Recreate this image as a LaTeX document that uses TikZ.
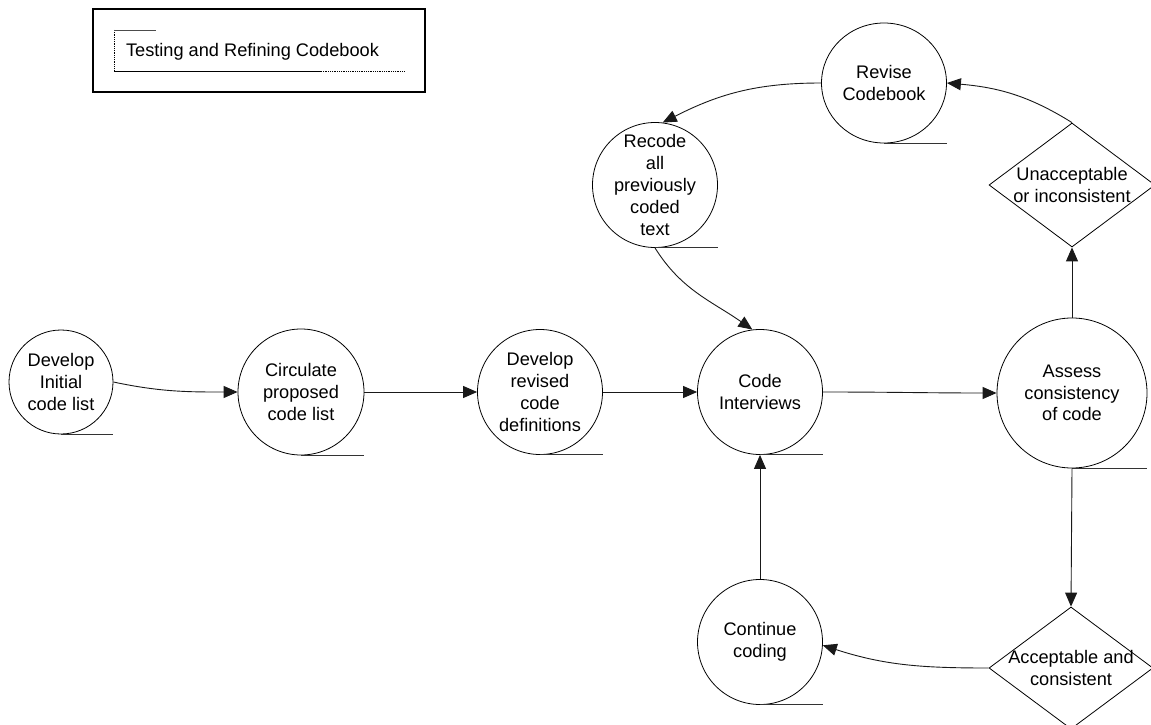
\documentclass[tikz,border=0pt]{standalone}
\usepackage{fontspec}
\setmainfont{Liberation Sans}
\usetikzlibrary{arrows.meta,shapes.geometric}
\begin{document}
\begin{tikzpicture}[x=1pt,y=-1pt,
  every node/.style={font=\fontsize{18.2pt}{21.8pt}\selectfont},
  proc/.style={circle, draw, line width=0.8pt, inner sep=0pt, align=center},
  oval/.style={ellipse, draw, line width=0.8pt, inner sep=0pt, align=center},
  decision/.style={diamond, draw, line width=0.8pt, inner sep=0pt},
  txt/.style={align=center, inner sep=0pt},
  flow/.style={draw=black!90, line width=0.9pt, -{Triangle[length=14pt,width=12pt]}},
  underline/.style={draw=black!80, line width=0.9pt},
]
\useasboundingbox (0,0) rectangle (1151,725);

% title frame
\node[draw, line width=1.5pt, minimum width=332pt, minimum height=83pt, inner sep=0pt] (titlebox) at (259,50.5) {};
\node[txt] (title) at (252.5,52) {Testing and Refining Codebook};
\draw[densely dotted, line width=0.8pt] (114,30) -- (114,71);
\draw[line width=0.7pt, black!70] (114,30) -- (156,30);
\draw[line width=0.8pt] (114,71) -- (321,71);
\draw[densely dotted, line width=0.8pt] (321,71) -- (404,71);

% processes
\node[proc, minimum size=104pt] (dev) at (61,382) {Develop\\Initial\\code list};
\node[proc, minimum size=126pt] (circ) at (301,392) {Circulate\\proposed\\code list};
\node[proc, minimum size=125pt] (defs) at (540,392) {Develop\\revised\\code\\definitions};
\node[proc, minimum size=125pt] (code) at (760,392) {Code\\Interviews};
\node[proc, minimum size=150pt] (assess) at (1072,393) {Assess\\consistency\\of code};
\node[oval, minimum width=125pt, minimum height=120pt] (revise) at (884,83) {Revise\\Codebook};
\node[proc, minimum size=125pt] (recode) at (655,185) {};
\node[txt] (recodeT) at (recode) {Recode\\all\\previously\\coded\\text};
\node[proc, minimum size=125pt] (cont) at (760,642) {Continue\\coding};

% decisions
\node[decision, minimum width=166pt, minimum height=124pt] (unacc) at (1072,185) {};
\node[txt] (unaccT) at (unacc) {Unacceptable\\or inconsistent};
\node[decision, minimum width=164pt, minimum height=122pt] (acc) at (1071,668) {};
\node[txt] (accT) at (acc) {Acceptable and\\consistent};

% underlines below each process
\foreach \n in {dev,circ,defs,code,assess,revise,recode,cont}
  \draw[underline] (\n.south) -- (\n.south -| \n.east);

% flows
\draw[flow] (dev.east) to[out=-12,in=180] (circ.west);
\draw[flow] (circ.east) -- (defs.west);
\draw[flow] (defs.east) -- (code.west);
\draw[flow] (code.east) to[out=0,in=180] (assess.west);
\draw[flow] (assess.north) -- (unacc.south);
\draw[flow] (assess.south) -- (acc.north);
\draw[flow] (unacc.north) to[out=148,in=-5] (revise.east);
\draw[flow] (revise.west) to[out=180,in=27] (recode.83);
\draw[flow] (recode.south) to[out=-58,in=145] (code.97);
\draw[flow] (cont.north) -- (code.south);
\draw[flow] (acc.west) to[out=180,in=-18] (cont.-3);
\end{tikzpicture}
\end{document}
